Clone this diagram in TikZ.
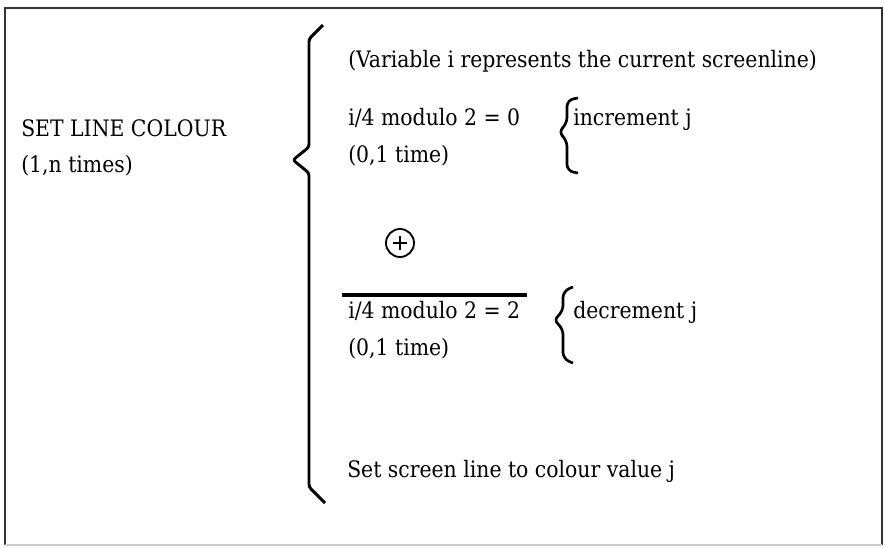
\documentclass[tikz,border=0pt]{standalone}
\usepackage{fontspec}
\setmainfont{DejaVu Serif Condensed}
\usepackage{tikz}
\usetikzlibrary{positioning,calc}

\begin{document}
\begin{tikzpicture}[
  x=0.75pt, y=-0.75pt,
  txt/.style={anchor=base west, inner sep=0pt, font=\fontsize{17}{20}\selectfont},
  brace/.style={line width=2.2pt, line join=round, rounded corners=2pt},
  frame/.style={line width=2.2pt, draw=black!80}
]
\useasboundingbox (0,0) rectangle (885,547);

% frame
\draw[frame] (5,545) -- (5,8) -- (882,8) -- (882,545);
\draw[line width=1.5pt, black!20] (5,545) -- (882,545);

% left label
\node[txt] (title) at (21,136) {SET LINE COLOUR};
\node[txt] (times) at (21,172) {(1,n times)};

% big brace
\draw[brace] (323,25) -- (309,39) -- (309,147) -- (293,160) -- (309,173) -- (309,487) -- (325,503);

\node[txt] (note) at (348,67) {(Variable i represents the current screenline)};

% first choice
\node[txt] (cond0) at (348,125) {i/4 modulo 2 = 0};
\node[txt] (cnt0) at (348,162) {(0,1 time)};
\draw[brace, line width=2pt, rounded corners=5pt] (578,98) -- (567,100) -- (567,124) -- (558,132) -- (567,140) -- (567,171) -- (578,173);
\node[txt] (inc) at (573,125) {increment j};

% selection
\node[draw, circle, line width=1.4pt, minimum size=21pt, inner sep=0pt] (sel) at (400,243) {};
\draw[line width=1.4pt] ($(sel.center)+(-7,0)$) -- ($(sel.center)+(7,0)$);
\draw[line width=1.4pt] ($(sel.center)+(0,-7)$) -- ($(sel.center)+(0,7)$);

% second choice
\draw[line width=2.4pt] (342,295) -- (527,295);
\node[txt] (cond2) at (348,318) {i/4 modulo 2 = 2};
\node[txt] (cnt2) at (348,355) {(0,1 time)};
\draw[brace, line width=2pt, rounded corners=5pt] (573,287) -- (563,291) -- (563,312) -- (553,320) -- (563,328) -- (563,359) -- (573,363);
\node[txt] (dec) at (573,318) {decrement j};

\node[txt] (setcol) at (347,477) {Set screen line to colour value j};
\end{tikzpicture}
\end{document}
